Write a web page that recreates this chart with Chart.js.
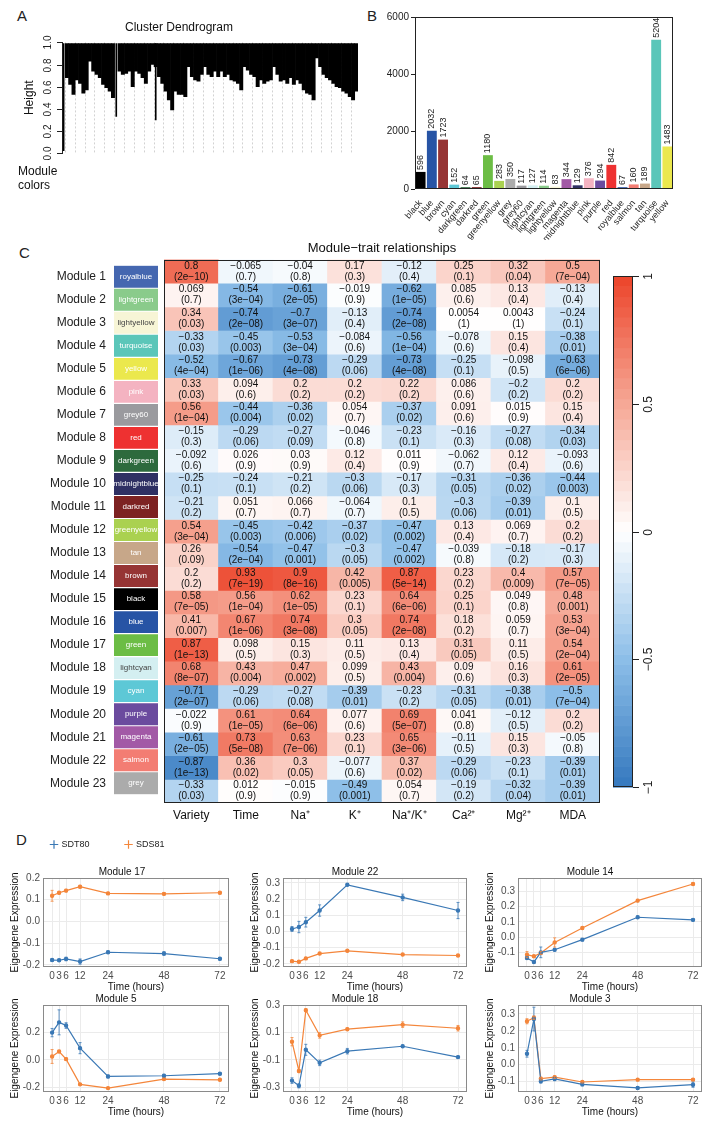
<!DOCTYPE html>
<html><head><meta charset="utf-8">
<script src="https://cdn.jsdelivr.net/npm/chart.js@4.4.1/dist/chart.umd.min.js"></script>
<style>
html,body{margin:0;padding:0;background:#fff;}
body{width:715px;height:1127px;position:relative;overflow:hidden;font-family:'Liberation Sans',Arial,sans-serif;}
canvas{position:absolute;}
.lbl{position:absolute;font-size:15px;line-height:15px;color:#222;}
</style></head><body>
<div class="lbl" style="left:17px;top:8px">A</div>
<div class="lbl" style="left:367px;top:8px">B</div>
<div class="lbl" style="left:19px;top:245px">C</div>
<div class="lbl" style="left:16px;top:832px">D</div>
<script>
// ---------------- DATA ----------------
// Panel A: dendrogram (bottom of the black branch mass per column, merge height) and module colour strip
const dendroLow = [null,0.68,0.62,0.53,0.66,0.63,0.54,0.57,0.83,0.74,0.71,0.68,0.62,0.59,0.56,0.5,
  null,0.74,0.71,0.72,0.74,0.6,0.74,0.72,0.68,0.63,0.74,0.8,
  0.78,0.69,0.63,0.56,0.48,0.39,0.56,0.53,0.53,0.51,
  0.78,0.69,0.66,0.65,0.71,
  0.78,0.71,0.69,0.74,0.69,0.74,0.69,0.71,0.66,0.65,0.63,0.57,
  0.78,0.75,0.71,0.69,0.6,0.66,0.63,0.65,0.66,
  0.78,0.71,0.65,0.66,0.63,0.68,0.62,0.66,0.63,0.57,0.54,0.53,0.48,
  0.86,0.78,0.71,0.68,0.66,0.63,0.6,0.59,0.56,0.54,0.51,0.48,0.56];
const dendroLeaf = [0.02,null,null,null,null,null,null,null,null,null,null,null,null,null,null,null,
  0.33,null,null,null,null,null,null,null,null,null,null,null,
  0.30,null,null,null,null,null,null,null,null,null,
  null,null,null,null,null,
  null,null,null,null,null,null,null,null,null,null,null,null,
  null,null,null,null,null,null,null,null,null,
  null,null,null,null,null,null,null,null,null,null,null,null,null,
  null,null,null,null,null,null,null,null,null,null,null,null,null];
const dendroTop = 0.99;
const stripColors = ['grey','greenyellow','tan','greenyellow','darkred','greenyellow','magenta','lightcyan','lightgreen','green','salmon','green','tan','midnightblue','pink','red','salmon','red','lightyellow','red','yellow','red','yellow','turquoise','pink','tan','brown','blue','salmon','lightcyan','yellow','purple','lightcyan','purple','turquoise','blue','yellow','turquoise','black','darkgreen','black','yellow','purple','blue','turquoise','yellow','blue','turquoise','pink','turquoise','blue','turquoise','lightcyan'];
const stripWidths = [13,12,4,12,4,8,18,4,6,32,4,41,7,5,5,10,8,5,7,8,30,15,10,7,4,9,82,43,10,10,8,8,6,8,10,12,8,5,10,5,26,10,4,45,10,10,7,30,10,16,4,198,5];

// Panel B: module sizes
const sizeModules = ['black','blue','brown','cyan','darkgreen','darkred','green','greenyellow','grey','grey60','lightcyan','lightgreen','lightyellow','magenta','midnightblue','pink','purple','red','royalblue','salmon','tan','turquoise','yellow'];
const sizeCounts = [596,2032,1723,152,64,65,1180,283,350,117,127,114,83,344,129,376,294,842,67,160,189,5204,1483];
const sizeTicks = [0,2000,4000,6000];

// Panel C: module-trait correlations
const moduleNames = ['Module 1','Module 2','Module 3','Module 4','Module 5','Module 6','Module 7','Module 8','Module 9','Module 10','Module 11','Module 12','Module 13','Module 14','Module 15','Module 16','Module 17','Module 18','Module 19','Module 20','Module 21','Module 22','Module 23'];
const moduleColorNames = ['royalblue','lightgreen','lightyellow','turquoise','yellow','pink','grey60','red','darkgreen','midnightblue','darkred','greenyellow','tan','brown','black','blue','green','lightcyan','cyan','purple','magenta','salmon','grey'];
const traits = ['Variety','Time','Na\u207A','K\u207A','Na\u207A/K\u207A','Ca\u00B2\u207A','Mg\u00B2\u207A','MDA'];
const corrRows = [
 [0.8,-0.065,-0.04,0.17,-0.12,0.25,0.32,0.5],
 [0.069,-0.54,-0.61,-0.019,-0.62,0.085,0.13,-0.13],
 [0.34,-0.74,-0.7,-0.13,-0.74,0.0054,0.0043,-0.24],
 [-0.33,-0.45,-0.53,-0.084,-0.56,-0.078,0.15,-0.38],
 [-0.52,-0.67,-0.73,-0.29,-0.73,-0.25,-0.098,-0.63],
 [0.33,0.094,0.2,0.2,0.22,0.086,-0.2,0.2],
 [0.56,-0.44,-0.36,0.054,-0.37,0.091,0.015,0.15],
 [-0.15,-0.29,-0.27,-0.046,-0.23,-0.16,-0.27,-0.34],
 [-0.092,0.026,0.03,0.12,0.011,-0.062,0.12,-0.093],
 [-0.25,-0.24,-0.21,-0.3,-0.17,-0.31,-0.36,-0.44],
 [-0.21,0.051,0.066,-0.064,0.1,-0.3,-0.39,0.1],
 [0.54,-0.45,-0.42,-0.37,-0.47,0.13,0.069,0.2],
 [0.26,-0.54,-0.47,-0.3,-0.47,-0.039,-0.18,-0.17],
 [0.2,0.93,0.9,0.42,0.87,0.23,0.4,0.57],
 [0.58,0.56,0.62,0.23,0.64,0.25,0.049,0.48],
 [0.41,0.67,0.74,0.3,0.74,0.18,0.059,0.53],
 [0.87,0.098,0.15,0.11,0.13,0.31,0.11,0.54],
 [0.68,0.43,0.47,0.099,0.43,0.09,0.16,0.61],
 [-0.71,-0.29,-0.27,-0.39,-0.23,-0.31,-0.38,-0.5],
 [-0.022,0.61,0.64,0.077,0.69,0.041,-0.12,0.2],
 [-0.61,0.73,0.63,0.23,0.65,-0.11,0.15,-0.05],
 [-0.87,0.36,0.3,-0.077,0.37,-0.29,-0.23,-0.39],
 [-0.33,0.012,-0.015,-0.49,0.054,-0.19,-0.32,-0.39]];
const pRows = [
 ['2e-10','0.7','0.8','0.3','0.4','0.1','0.04','7e-04'],
 ['0.7','3e-04','2e-05','0.9','1e-05','0.6','0.4','0.4'],
 ['0.03','2e-08','3e-07','0.4','2e-08','1','1','0.1'],
 ['0.03','0.003','3e-04','0.6','1e-04','0.6','0.4','0.01'],
 ['4e-04','1e-06','4e-08','0.06','4e-08','0.1','0.5','6e-06'],
 ['0.03','0.6','0.2','0.2','0.2','0.6','0.2','0.2'],
 ['1e-04','0.004','0.02','0.7','0.02','0.6','0.9','0.4'],
 ['0.3','0.06','0.09','0.8','0.1','0.3','0.08','0.03'],
 ['0.6','0.9','0.9','0.4','0.9','0.7','0.4','0.6'],
 ['0.1','0.1','0.2','0.06','0.3','0.05','0.02','0.003'],
 ['0.2','0.7','0.7','0.7','0.5','0.06','0.01','0.5'],
 ['3e-04','0.003','0.006','0.02','0.002','0.4','0.7','0.2'],
 ['0.09','2e-04','0.001','0.05','0.002','0.8','0.2','0.3'],
 ['0.2','7e-19','8e-16','0.005','5e-14','0.2','0.009','7e-05'],
 ['7e-05','1e-04','1e-05','0.1','6e-06','0.1','0.8','0.001'],
 ['0.007','1e-06','3e-08','0.05','2e-08','0.2','0.7','3e-04'],
 ['1e-13','0.5','0.3','0.5','0.4','0.05','0.5','2e-04'],
 ['8e-07','0.004','0.002','0.5','0.004','0.6','0.3','2e-05'],
 ['2e-07','0.06','0.08','0.01','0.2','0.05','0.01','7e-04'],
 ['0.9','1e-05','6e-06','0.6','5e-07','0.8','0.5','0.2'],
 ['2e-05','5e-08','7e-06','0.1','3e-06','0.5','0.3','0.8'],
 ['1e-13','0.02','0.05','0.6','0.02','0.06','0.1','0.01'],
 ['0.03','0.9','0.9','0.001','0.7','0.2','0.04','0.01']];
const colorbarTicks = [-1,-0.5,0,0.5,1];

// Panel D: eigengene expression time courses (mean and error)
const timePoints = [0,3,6,12,24,48,72];
const m17_SDT80 = [-0.178,-0.179,-0.173,-0.185,-0.142,-0.148,-0.172];
const m17_SDT80_err = [0.006,0.005,0.008,0.012,0.006,0.008,0.006];
const m17_SDS81 = [0.118,0.132,0.142,0.16,0.129,0.127,0.132];
const m17_SDS81_err = [0.025,0.006,0.006,0.006,0.005,0.006,0.005];
const m22_SDT80 = [0.015,0.027,0.057,0.129,0.288,0.21,0.129];
const m22_SDT80_err = [0.015,0.035,0.03,0.035,0.005,0.02,0.05];
const m22_SDS81 = [-0.184,-0.188,-0.167,-0.137,-0.12,-0.143,-0.149];
const m22_SDS81_err = [0.006,0.005,0.006,0.005,0.005,0.005,0.005];
const m14_SDT80 = [-0.137,-0.163,-0.1,-0.083,-0.017,0.13,0.113];
const m14_SDT80_err = [0.008,0.008,0.035,0.008,0.008,0.008,0.008];
const m14_SDS81 = [-0.115,-0.126,-0.104,-0.035,0.059,0.239,0.348];
const m14_SDS81_err = [0.02,0.006,0.01,0.03,0.006,0.008,0.008];
const m5_SDT80 = [0.196,0.27,0.247,0.084,-0.12,-0.115,-0.1];
const m5_SDT80_err = [0.03,0.09,0.02,0.04,0.01,0.01,0.008];
const m5_SDS81 = [0.024,0.06,0.005,-0.177,-0.204,-0.139,-0.144];
const m5_SDS81_err = [0.05,0.008,0.01,0.006,0.005,0.008,0.006];
const m18_SDT80 = [-0.25,-0.288,-0.026,-0.121,-0.036,0.0,-0.079];
const m18_SDT80_err = [0.02,0.015,0.04,0.02,0.02,0.008,0.008];
const m18_SDS81 = [0.033,-0.18,0.262,0.079,0.124,0.157,0.131];
const m18_SDS81_err = [0.03,0.01,0.01,0.02,0.008,0.02,0.02];
const m3_SDT80 = [0.065,0.27,-0.098,-0.084,-0.116,-0.137,-0.118];
const m3_SDT80_err = [0.02,0.07,0.01,0.01,0.008,0.008,0.015];
const m3_SDS81 = [0.257,0.278,-0.082,-0.073,-0.102,-0.088,-0.088];
const m3_SDS81_err = [0.015,0.01,0.008,0.008,0.006,0.006,0.006];
const seriesNames = ['SDT80','SDS81'];

// ---------------- STYLE ----------------
const F = "'Liberation Sans', Arial, Helvetica, sans-serif";
const PAL = {black:'#000000',blue:'#2754A5',brown:'#963434',cyan:'#5DC8D6',darkgreen:'#2D6A3D',darkred:'#7D2222',green:'#6CBD45',greenyellow:'#AAD150',grey:'#ABABAB',grey60:'#9A9A9E',lightcyan:'#D4EFF1',lightgreen:'#8ACB8B',lightyellow:'#F7F5D6',magenta:'#A259A6',midnightblue:'#2F3063',pink:'#F4B3C1',purple:'#6B4B9E',red:'#EE3131',royalblue:'#4567B0',salmon:'#F37D73',tan:'#C7A789',turquoise:'#5BC6B9',yellow:'#EBE84D'};
const DARK_TEXT = ['lightyellow','lightcyan'];
const BLUE = '#3A78B5', ORANGE = '#F4863B';
const CB_STEPS = 50;

Chart.defaults.font.family = F;
Chart.defaults.color = '#222';
Chart.defaults.animation = false;
Chart.defaults.responsive = false;
Chart.defaults.devicePixelRatio = 1;
Chart.defaults.events = [];
Chart.defaults.plugins.legend.display = false;
Chart.defaults.plugins.tooltip.enabled = false;

function mk(left, top, w, h){
  const c = document.createElement('canvas');
  c.width = w; c.height = h;
  c.style.left = left+'px'; c.style.top = top+'px';
  c.style.width = w+'px'; c.style.height = h+'px';
  document.body.appendChild(c);
  return c;
}
function corrColor(v){
  const st = [[-1,52,120,190],[-0.5,140,190,232],[0,255,255,255],[0.5,246,168,150],[1,236,68,42]];
  v = Math.max(-1, Math.min(1, v));
  for (let k=0;k<st.length-1;k++){
    const a = st[k], b = st[k+1];
    if (v >= a[0] && v <= b[0]){
      const t = (v-a[0])/(b[0]-a[0]);
      return 'rgb('+Math.round(a[1]+(b[1]-a[1])*t)+','+Math.round(a[2]+(b[2]-a[2])*t)+','+Math.round(a[3]+(b[3]-a[3])*t)+')';
    }
  }
  return '#fff';
}
const minus = s => String(s).replace(/-/g,'\u2212');
const fmt1 = v => Math.abs(v) < 1e-9 ? '0.0' : v.toFixed(1);

const boxPlugin = { id:'boxp', afterDraw(chart, args, o){
  if (!o || !o.color) return;
  const {ctx, chartArea:a} = chart;
  ctx.save(); ctx.strokeStyle = o.color; ctx.lineWidth = o.width || 1;
  ctx.strokeRect(Math.round(a.left)+0.5, Math.round(a.top)+0.5, Math.round(a.width)-1, Math.round(a.height)-1);
  ctx.restore();
}};
const rotTicks = { id:'rotTicks', afterDraw(chart, args, o){
  if (!o || !o.scale) return;
  const s = chart.scales[o.scale], ctx = chart.ctx;
  ctx.save(); ctx.font = o.font; ctx.fillStyle = o.color; ctx.strokeStyle = o.color; ctx.lineWidth = 1;
  ctx.textAlign = 'center'; ctx.textBaseline = 'middle';
  const right = o.side === 'right';
  const x0 = right ? chart.chartArea.right : chart.chartArea.left;
  const dir = right ? 1 : -1;
  s.ticks.forEach(t => {
    const y = Math.round(s.getPixelForValue(t.value)) + 0.5;
    ctx.beginPath(); ctx.moveTo(x0, y); ctx.lineTo(x0 + dir*o.tickLen, y); ctx.stroke();
    ctx.save(); ctx.translate(x0 + dir*o.offset, y); ctx.rotate(-Math.PI/2);
    ctx.fillText(o.format(t.value), 0, 0); ctx.restore();
  });
  ctx.restore();
}};
const legendH = { id:'legendH', beforeLayout(chart, args, o){
  if (!o || !o.h || !chart.legend || chart.legend._patched) return;
  const L = chart.legend, orig = L.fit;
  L.fit = function(){ orig.call(this); this.height = o.h; };
  L._patched = true;
}};
Chart.register(boxPlugin, rotTicks, legendH);

// ---------------- PANEL A ----------------
new Chart(mk(0, 0, 370, 160), {
  type: 'bar',
  data: { labels: dendroLow.map((_, i) => String(i)), datasets: [
    { data: dendroLow.map(v => v == null ? null : [v, dendroTop]), backgroundColor: '#000', barPercentage: 1, categoryPercentage: 1, grouped: false },
    { data: dendroLeaf.map(v => v == null ? null : [v, dendroTop]), backgroundColor: '#000', barThickness: 1, grouped: false }
  ]},
  options: {
    layout: { padding: { right: 12, bottom: 7 } },
    plugins: {
      title: { display: true, text: 'Cluster Dendrogram', font: { size: 12, weight: 'normal' }, color: '#111', padding: { top: 20, bottom: 8 } },
      rotTicks: { scale: 'y', side: 'left', tickLen: 5, offset: 14, font: '10px '+F, color: '#222', format: v => fmt1(v) }
    },
    scales: {
      x: { ticks: { display: false }, grid: { color: c => (c.index % 3 === 1) ? '#d2d2d2' : 'rgba(0,0,0,0)', drawTicks: false }, border: { display: false, dash: [2, 2] }, afterFit: s => { s.height = 0; } },
      y: { min: 0, max: 1, ticks: { stepSize: 0.2, display: false }, grid: { display: false }, border: { display: true, color: '#222' },
           title: { display: true, text: 'Height', font: { size: 12 }, color: '#111', padding: { top: 22 } }, afterFit: s => { s.width = 62; } }
    }
  }
});
new Chart(mk(0, 160, 370, 33), {
  type: 'bar',
  data: { labels: [['Module', 'colors']], datasets: stripWidths.map((w, i) => ({ data: [w], backgroundColor: PAL[stripColors[i]], barPercentage: 1, categoryPercentage: 1 })) },
  options: {
    indexAxis: 'y',
    layout: { padding: { left: 18, top: 3, bottom: 3, right: 12 } },
    scales: {
      x: { stacked: true, display: false, min: 0, max: stripWidths.reduce((a, b) => a + b, 0) },
      y: { stacked: true, grid: { display: false, drawTicks: false }, border: { display: false }, ticks: { font: { size: 12 }, color: '#111', crossAlign: 'far', padding: 4 }, afterFit: s => { s.width = 44; } }
    }
  }
});

// ---------------- PANEL B ----------------
const barValues = { id: 'barValues', afterDatasetsDraw(chart){
  const ctx = chart.ctx, meta = chart.getDatasetMeta(0), ds = chart.data.datasets[0];
  ctx.save(); ctx.font = '9px '+F; ctx.fillStyle = '#222'; ctx.textAlign = 'left'; ctx.textBaseline = 'middle';
  meta.data.forEach((el, i) => { ctx.save(); ctx.translate(el.x, el.y - 2); ctx.rotate(-Math.PI/2); ctx.fillText(String(ds.data[i]), 0, 0); ctx.restore(); });
  ctx.restore();
}};
new Chart(mk(372, 0, 343, 240), {
  type: 'bar',
  data: { labels: sizeModules, datasets: [{ data: sizeCounts, backgroundColor: sizeModules.map(c => PAL[c]), barPercentage: 0.88, categoryPercentage: 1 }] },
  options: {
    layout: { padding: { top: 17, right: 42 } },
    plugins: { boxp: { color: '#222' } },
    scales: {
      y: { min: 0, max: 6000, afterBuildTicks: s => { s.ticks = sizeTicks.map(v => ({ value: v })); },
           ticks: { font: { size: 10 }, color: '#222', padding: 2, callback: v => String(v) }, grid: { drawOnChartArea: false, tickLength: 4, color: '#222' }, border: { display: false }, afterFit: s => { s.width = 43; } },
      x: { ticks: { font: { size: 9 }, color: '#222', minRotation: 50, maxRotation: 50, autoSkip: false, padding: 1 }, grid: { display: false }, border: { display: false }, afterFit: s => { s.height = 51; } }
    }
  },
  plugins: [barValues]
});

// ---------------- PANEL C ----------------
const stripText = { id: 'stripText', afterDatasetsDraw(chart){
  const ctx = chart.ctx, meta = chart.getDatasetMeta(0), a = chart.chartArea;
  ctx.save(); ctx.font = '8px '+F; ctx.textAlign = 'center'; ctx.textBaseline = 'middle';
  meta.data.forEach((el, i) => {
    const name = moduleColorNames[i];
    ctx.fillStyle = DARK_TEXT.includes(name) ? '#444' : '#fff';
    ctx.fillText(name, (a.left + a.right) / 2, el.y);
  });
  ctx.restore();
}};
new Chart(mk(0, 250, 162, 560), {
  type: 'bar',
  data: { labels: moduleNames, datasets: [{ data: moduleNames.map(() => 1), backgroundColor: moduleColorNames.map(c => PAL[c]), barPercentage: 0.95, categoryPercentage: 1 }] },
  options: {
    indexAxis: 'y',
    layout: { padding: { top: 10, bottom: 7, right: 4 } },
    scales: {
      x: { display: false, min: 0, max: 1 },
      y: { grid: { display: false, drawTicks: false }, border: { display: false }, ticks: { font: { size: 12 }, color: '#222', padding: 8 }, afterFit: s => { s.width = 114; } }
    }
  },
  plugins: [stripText]
});
const heatText = { id: 'heatText', afterDatasetsDraw(chart){
  const ctx = chart.ctx;
  ctx.save(); ctx.font = '10px '+F; ctx.fillStyle = '#111'; ctx.textAlign = 'center'; ctx.textBaseline = 'middle';
  chart.data.datasets.forEach((ds, i) => {
    chart.getDatasetMeta(i).data.forEach((el, j) => {
      const cy = (el.y + el.base) / 2;
      ctx.fillText(minus(corrRows[i][j]), el.x, cy - 5.5);
      ctx.fillText('(' + minus(pRows[i][j]) + ')', el.x, cy + 5.5);
    });
  });
  ctx.restore();
}};
new Chart(mk(154, 230, 456, 613), {
  type: 'bar',
  data: { labels: traits, datasets: moduleNames.map((m, i) => ({ label: m, data: traits.map(() => 1), backgroundColor: corrRows[i].map(corrColor), borderWidth: 0, barPercentage: 1, categoryPercentage: 1 })) },
  options: {
    layout: { padding: { left: 10, right: 10 } },
    plugins: {
      title: { display: true, text: 'Module\u2212trait relationships', font: { size: 13, weight: 'normal' }, color: '#111', padding: { top: 11, bottom: 3 } },
      boxp: { color: '#222' }
    },
    scales: {
      x: { stacked: true, grid: { display: false, drawTicks: false }, border: { display: false }, ticks: { font: { size: 12 }, color: '#111', padding: 5, maxRotation: 0, autoSkip: false }, afterFit: s => { s.height = 40; } },
      y: { stacked: true, display: false, min: 0, max: moduleNames.length, reverse: true }
    }
  },
  plugins: [heatText]
});
const cbar = { id: 'cbar', beforeDraw(chart){
  const ys = chart.scales.y, a = chart.chartArea, ctx = chart.ctx;
  ctx.save();
  for (let k = 0; k < CB_STEPS; k++){
    const v0 = -1 + 2*k/CB_STEPS, v1 = -1 + 2*(k+1)/CB_STEPS;
    const y0 = ys.getPixelForValue(v0), y1 = ys.getPixelForValue(v1);
    ctx.fillStyle = corrColor((v0 + v1) / 2);
    ctx.fillRect(a.left, y1, a.width, y0 - y1 + 0.6);
  }
  ctx.strokeStyle = '#222'; ctx.lineWidth = 1;
  ctx.strokeRect(Math.round(a.left)+0.5, Math.round(a.top)+0.5, Math.round(a.width)-1, Math.round(a.height)-1);
  ctx.restore();
}};
new Chart(mk(600, 260, 70, 540), {
  type: 'bar',
  data: { labels: ['r'], datasets: [] },
  options: {
    layout: { padding: { left: 13, top: 16, bottom: 13, right: 0 } },
    plugins: { rotTicks: { scale: 'y', side: 'right', tickLen: 6, offset: 16, font: '12px '+F, color: '#222', format: v => minus(v) } },
    scales: {
      x: { display: false },
      y: { position: 'right', min: -1, max: 1, afterBuildTicks: s => { s.ticks = colorbarTicks.map(v => ({ value: v })); }, ticks: { display: false }, grid: { display: false }, border: { display: false }, afterFit: s => { s.width = 37; } }
    }
  },
  plugins: [cbar]
});

// ---------------- PANEL D ----------------
const errBars = { id: 'errBars', afterDatasetsDraw(chart){
  const ctx = chart.ctx, ys = chart.scales.y;
  chart.data.datasets.forEach((ds, di) => {
    if (!ds.errors) return;
    const meta = chart.getDatasetMeta(di);
    ctx.save(); ctx.strokeStyle = ds.borderColor; ctx.globalAlpha = 0.8; ctx.lineWidth = 1;
    meta.data.forEach((pt, i) => {
      const v = ds.data[i].y, e = ds.errors[i];
      const y1 = ys.getPixelForValue(v - e), y2 = ys.getPixelForValue(v + e);
      ctx.beginPath(); ctx.moveTo(pt.x, y1); ctx.lineTo(pt.x, y2);
      ctx.moveTo(pt.x - 1.5, y1); ctx.lineTo(pt.x + 1.5, y1);
      ctx.moveTo(pt.x - 1.5, y2); ctx.lineTo(pt.x + 1.5, y2);
      ctx.stroke();
    });
    ctx.restore();
  });
}};
const BOX_L = [43, 283, 518], BOX_R = [229, 467, 702], BOX_T = [878, 1005], BOX_B = [967, 1092];
const subplots = [
  { title: 'Module 17', a: m17_SDT80, ae: m17_SDT80_err, b: m17_SDS81, be: m17_SDS81_err, min: -0.21, max: 0.2, step: 0.1, col: 0, row: 0, legend: true },
  { title: 'Module 22', a: m22_SDT80, ae: m22_SDT80_err, b: m22_SDS81, be: m22_SDS81_err, min: -0.22, max: 0.33, step: 0.1, col: 1, row: 0 },
  { title: 'Module 14', a: m14_SDT80, ae: m14_SDT80_err, b: m14_SDS81, be: m14_SDS81_err, min: -0.196, max: 0.387, step: 0.1, col: 2, row: 0 },
  { title: 'Module 5', a: m5_SDT80, ae: m5_SDT80_err, b: m5_SDS81, be: m5_SDS81_err, min: -0.232, max: 0.395, step: 0.2, col: 0, row: 1 },
  { title: 'Module 18', a: m18_SDT80, ae: m18_SDT80_err, b: m18_SDS81, be: m18_SDS81_err, min: -0.333, max: 0.3, step: 0.1, col: 1, row: 1 },
  { title: 'Module 3', a: m3_SDT80, ae: m3_SDT80_err, b: m3_SDS81, be: m3_SDS81_err, min: -0.161, max: 0.353, step: 0.1, col: 2, row: 1 }
];
subplots.forEach(sp => {
  const bl = BOX_L[sp.col], br = BOX_R[sp.col], bt = BOX_T[sp.row], bb = BOX_B[sp.row];
  const left = bl - 40;
  const top = sp.legend ? 804 : bt - 16;
  const width = br - left + 8;
  const height = bb - top + 30;
  const mkDs = (name, vals, errs, col) => ({
    label: name, data: timePoints.map((t, i) => ({ x: t, y: vals[i] })), errors: errs,
    borderColor: col, backgroundColor: col, borderWidth: 1.2, pointRadius: 1.6, pointStyle: 'circle', tension: 0
  });
  new Chart(mk(left, top, width, height), {
    type: 'line',
    data: { datasets: [mkDs(seriesNames[0], sp.a, sp.ae, BLUE), mkDs(seriesNames[1], sp.b, sp.be, ORANGE)] },
    options: {
      layout: { padding: { left: sp.legend ? 12 : 0, right: 8 } },
      plugins: {
        legend: { display: !!sp.legend, position: 'top', align: 'start', weight: 3000,
          labels: { usePointStyle: true, pointStyle: 'cross', boxWidth: 6, boxHeight: 6, padding: 36, font: { size: 9 }, color: '#222' } },
        legendH: { h: sp.legend ? 58 : 0 },
        title: { display: true, text: sp.title, font: { size: 10, weight: 'normal' }, color: '#111', padding: { top: 4, bottom: 0 } },
        boxp: { color: '#8a8a8a' }
      },
      scales: {
        x: { type: 'linear', min: -3.9, max: 75.9, afterBuildTicks: s => { s.ticks = timePoints.map(v => ({ value: v })); },
             ticks: { autoSkip: false, maxRotation: 0, font: { size: 10 }, color: '#4d4d4d', padding: 3, callback: v => String(v) },
             grid: { color: '#ebebeb', drawTicks: false }, border: { display: false },
             title: { display: true, text: 'Time (hours)', font: { size: 10 }, color: '#111', padding: { top: 0, bottom: 4 } },
             afterFit: s => { s.height = 30; } },
        y: { min: sp.min, max: sp.max, ticks: { stepSize: sp.step, includeBounds: false, font: { size: 10 }, color: '#4d4d4d', padding: 3, callback: v => fmt1(v) },
             grid: { color: '#ebebeb', drawTicks: false }, border: { display: false },
             title: { display: true, text: 'Eigengene Expression', font: { size: 10 }, color: '#111', padding: { top: sp.legend ? -6 : 6 } },
             afterFit: s => { s.width = sp.legend ? 28 : 40; } }
      }
    },
    plugins: [errBars]
  });
});
</script>
</body></html>
